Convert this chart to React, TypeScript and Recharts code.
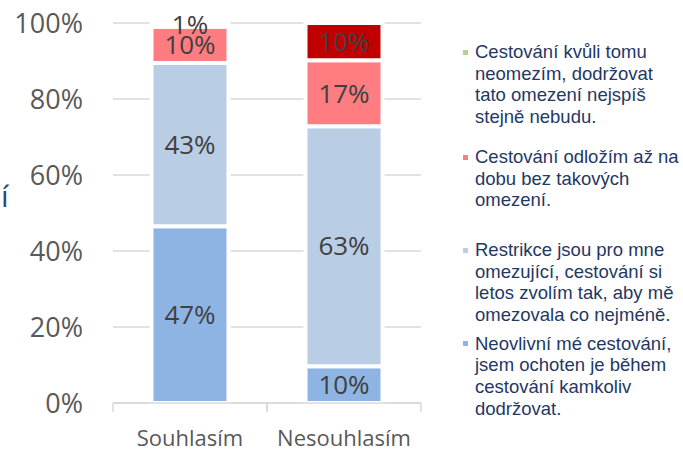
import React from 'react';
import { BarChart, Bar, XAxis, YAxis, CartesianGrid, LabelList, Cell } from 'recharts';

const categories = ['Souhlasím', 'Nesouhlasím'];
const neovlivni = [46.5, 9.7];
const restrikce = [43, 63.1];
const odlozim = [9.5, 17.4];
const neomezim = [1, 9.8];
const yTicks = [0, 20, 40, 60, 80, 100];

const legendItems = [
  { color: '#B5D38F', lines: ['Cestování kvůli tomu', 'neomezím, dodržovat', 'tato omezení nejspíš', 'stejně nebudu.'] },
  { color: '#FF7C80', lines: ['Cestování odložím až na', 'dobu bez takových', 'omezení.'] },
  { color: '#B9CDE5', lines: ['Restrikce jsou pro mne', 'omezující, cestování si', 'letos zvolím tak, aby mě', 'omezovala co nejméně.'] },
  { color: '#8EB4E3', lines: ['Neovlivní mé cestování,', 'jsem ochoten je během', 'cestování kamkoliv', 'dodržovat.'] },
];
const legendTops = [41, 146, 239, 332.5];

const topColors = ['#B5D38F', '#C00000'];

const data = categories.map((name, i) => ({
  name,
  neovlivni: neovlivni[i],
  restrikce: restrikce[i],
  odlozim: odlozim[i],
  neomezim: neomezim[i],
}));

const W = 683;
const H = 449;
const MARGIN = { top: 23, right: 262, bottom: 0, left: 13 };
const YAXIS_W = 100;
const PLOT_W = W - MARGIN.left - YAXIS_W - MARGIN.right;
const BAND = PLOT_W / categories.length;

const FONT = "'Open Sans', sans-serif";

const CatTick = (props: any) => {
  const { x, y, payload } = props;
  return (
    <g>
      <line x1={x - BAND / 2} x2={x - BAND / 2} y1={y} y2={y + 9} stroke="#D9D9D9" strokeWidth={1.5} />
      <line x1={x + BAND / 2} x2={x + BAND / 2} y1={y} y2={y + 9} stroke="#D9D9D9" strokeWidth={1.5} />
      <text x={x} y={y + 43} textAnchor="middle" fill="#595959" fontSize={22} fontFamily={FONT}>
        {payload.value}
      </text>
    </g>
  );
};

const fmt = (v: any) => Math.round(Number(v)) + '%';
const labelStyle = { fill: '#404040', fontSize: 26, fontFamily: FONT };

export default function App() {
  return (
    <div style={{ position: 'absolute', left: 0, top: 0, width: W, height: H, background: '#fff' }}>
      <BarChart width={W} height={H} data={data} margin={MARGIN} barCategoryGap="25%">
        <CartesianGrid vertical={false} stroke="#D9D9D9" strokeWidth={1.5} />
        <XAxis
          dataKey="name"
          axisLine={{ stroke: '#D9D9D9', strokeWidth: 1.5 }}
          tickLine={false}
          tickSize={0}
          tickMargin={0}
          height={46}
          interval={0}
          tick={<CatTick />}
        />
        <YAxis
          type="number"
          domain={[0, 100]}
          ticks={yTicks}
          tickFormatter={(v: number) => v + '%'}
          axisLine={false}
          tickLine={false}
          tickSize={0}
          tickMargin={30}
          width={YAXIS_W}
          tick={{ fill: '#595959', fontSize: 27, fontFamily: FONT }}
        />
        <Bar dataKey="neovlivni" stackId="a" fill="#8EB4E3" stroke="#fff" strokeWidth={4} isAnimationActive={false}>
          <LabelList dataKey="neovlivni" position="center" formatter={fmt} stroke="none" {...labelStyle} />
        </Bar>
        <Bar dataKey="restrikce" stackId="a" fill="#B9CDE5" stroke="#fff" strokeWidth={4} isAnimationActive={false}>
          <LabelList dataKey="restrikce" position="center" formatter={fmt} stroke="none" {...labelStyle} />
        </Bar>
        <Bar dataKey="odlozim" stackId="a" fill="#FF7C80" stroke="#fff" strokeWidth={4} isAnimationActive={false}>
          <LabelList dataKey="odlozim" position="center" formatter={fmt} stroke="none" {...labelStyle} />
        </Bar>
        <Bar dataKey="neomezim" stackId="a" fill="#C00000" stroke="#fff" strokeWidth={4} isAnimationActive={false}>
          {data.map((d, i) => (
            <Cell key={d.name} fill={topColors[i]} />
          ))}
          <LabelList dataKey="neomezim" position="center" formatter={fmt} stroke="none" {...labelStyle} />
        </Bar>
      </BarChart>
      <svg width={40} height={H} style={{ position: 'absolute', left: 0, top: 0 }}>
        <text x={1} y={206.5} fill="#1F4E79" fontSize={30} fontFamily={FONT}>í</text>
      </svg>
      {legendItems.map((item, i) => (
        <div
          key={i}
          style={{
            position: 'absolute',
            left: 463,
            top: legendTops[i],
            fontFamily: "'Liberation Sans', Arial, sans-serif",
            fontSize: 18.5,
            lineHeight: '21.67px',
            color: '#1F3864',
          }}
        >
          <div style={{ position: 'absolute', left: 0, top: 8.5, width: 5, height: 5, background: item.color }} />
          <div style={{ position: 'absolute', left: 12, top: 0, whiteSpace: 'nowrap' }}>
            {item.lines.map((l, j) => (
              <div key={j}>{l}</div>
            ))}
          </div>
        </div>
      ))}
    </div>
  );
}
